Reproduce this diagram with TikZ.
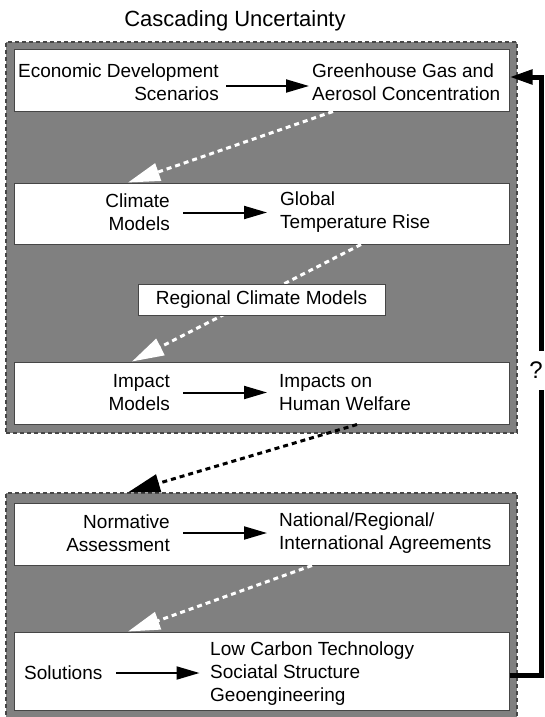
\documentclass[tikz,border=0pt]{standalone}
\usepackage{fontspec}
\setmainfont{Liberation Sans}
\usetikzlibrary{arrows.meta}
\definecolor{boxgray}{RGB}{128,128,128}
\definecolor{edgegray}{RGB}{70,70,70}
\begin{document}
\begin{tikzpicture}[x=1pt,y=-1pt,
  gbox/.style={draw=edgegray, dash pattern=on 4pt off 3pt, line width=1.3pt, fill=boxgray, minimum width=511pt, inner sep=0pt},
  wbox/.style={draw=edgegray, line width=1pt, fill=white, minimum width=495pt, inner sep=0pt},
  txt/.style={font=\fontsize{19}{23}\selectfont, inner sep=0pt},
  harrow/.style={line width=2pt, -{Triangle[length=23pt,width=13pt]}},
  wdash/.style={draw=white, line width=3pt, dash pattern=on 5pt off 4pt, -{Triangle[length=32pt,width=18pt,fill=white]}},
  bdash/.style={draw=black, line width=3pt, dash pattern=on 5pt off 4pt, -{Triangle[length=32pt,width=18pt,fill=black]}},
  fbline/.style={line width=5pt, draw=black}
]
\useasboundingbox (0,0) rectangle (544,717);

% title
\node[font=\fontsize{22}{26}\selectfont, inner sep=0pt] (title) at (235,21) {Cascading Uncertainty};

% gray containers
\node[gbox, minimum height=391pt] (g1) at (261.5,237.5) {};
\node[gbox, minimum height=230pt] (g2) at (261.5,608) {};

% white boxes
\node[wbox, minimum height=61pt] (b1) at (261.5,80.5) {};
\node[wbox, minimum height=61pt] (b2) at (261.5,213.5) {};
\node[wbox, minimum height=62pt] (b3) at (261.5,393) {};
\node[wbox, minimum height=62pt] (b4) at (261.5,534) {};
\node[wbox, minimum height=78pt] (b5) at (261.5,671) {};

% dashed cascade arrows
\draw[wdash] ([xshift=71.5pt]b1.south) -- ([xshift=-133.5pt]b2.north);
\draw[wdash] ([xshift=99.5pt]b2.south) -- ([xshift=-129.5pt]b3.north);
\draw[bdash] ([xshift=95.5pt]b3.south) -- ([xshift=-133.5pt]g2.north);
\draw[wdash] ([xshift=50.5pt]b4.south) -- ([xshift=-133.5pt]b5.north);

% regional climate models box (over the dashed arrow)
\node[wbox, minimum width=247pt, minimum height=31pt, txt] (rcm) at (261.5,299.5) {Regional Climate Models};

% texts and arrows in boxes
\node[txt, align=right, anchor=east] (l1) at (219,82.5) {Economic Development\\Scenarios};
\node[txt, align=left, anchor=west] (r1) at (312,82.5) {Greenhouse Gas and\\Aerosol Concentration};
\draw[harrow] ([xshift=7pt,yshift=-3.5pt]l1.east) -- ([xshift=-3pt,yshift=-3.5pt]r1.west);

\node[txt, align=right, anchor=east] (l2) at (170,212.5) {Climate\\Models};
\node[txt, align=left, anchor=west] (r2) at (280,212.5) {Global\\Temperature Rise};
\draw[harrow] ([xshift=13pt]l2.east) -- ([xshift=-13pt]r2.west);

\node[txt, align=right, anchor=east] (l3) at (170,392.5) {Impact\\Models};
\node[txt, align=left, anchor=west] (r3) at (279,392.5) {Impacts on\\Human Welfare};
\draw[harrow] ([xshift=13pt]l3.east) -- ([xshift=-12pt]r3.west);

\node[txt, align=right, anchor=east] (l4) at (170,533) {Normative\\Assessment};
\node[txt, align=left, anchor=west] (r4) at (279,533) {National/Regional/\\International Agreements};
\draw[harrow] ([xshift=13pt]l4.east) -- ([xshift=-12pt]r4.west);

\node[txt, anchor=west] (l5) at (24,673) {Solutions};
\node[txt, align=left, anchor=west] (r5) at (210,674) {Low Carbon Technology\\Sociatal Structure\\Geoengineering};
\draw[harrow] ([xshift=13.5pt]l5.east) -- ([xshift=-10.5pt]r5.west |- l5.east);

% feedback loop
\coordinate (qx) at (541.5,370.5);
\node[font=\fontsize{24}{28}\selectfont, inner sep=0pt] (qm) at (536,370.5) {?};
\draw[fbline] ([yshift=-4pt]b5.east) -| ([yshift=-19.5pt]qx);
\draw[fbline, -{Triangle[length=23pt,width=14pt]}] ([yshift=19.5pt]qx) |- ([yshift=3.5pt]b1.east);
\end{tikzpicture}
\end{document}
